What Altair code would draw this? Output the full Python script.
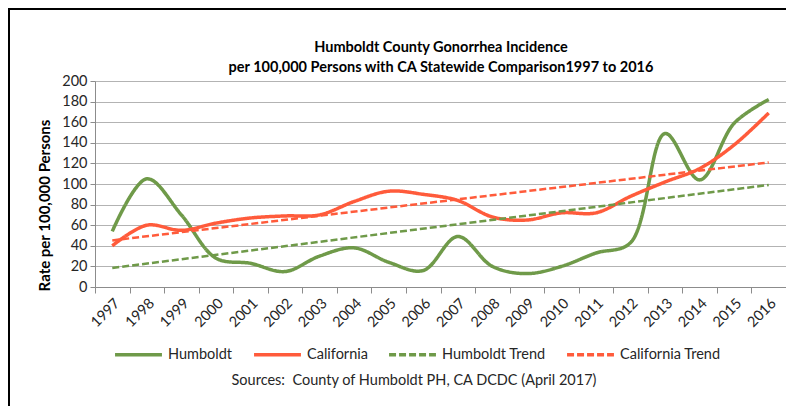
import altair as alt
import pandas as pd

years = list(range(1997, 2017))
humboldt = [54, 105, 70, 28, 23, 15, 30, 38, 24, 16, 49, 20, 13, 20, 33, 43, 149, 104, 159, 182]
california = [40, 60, 55, 62, 67, 69, 70, 83, 93, 90, 84, 68, 65, 72, 72, 88, 102, 115, 138, 169]
series_names = ["Humboldt", "California", "Humboldt Trend", "California Trend"]
series_colors = ["#6f9a49", "#ff5b3b", "#6f9a49", "#ff5b3b"]
series_dashes = [[1, 0], [1, 0], [7, 3], [7, 3]]
y_ticks = list(range(0, 201, 20))
title_lines = ["Humboldt County Gonorrhea Incidence",
               "per 100,000 Persons with CA Statewide Comparison1997 to 2016"]
y_title = "Rate per 100,000 Persons"
source_text = "Sources:\u00a0 County of Humboldt PH, CA DCDC (April 2017)"

FONT = "Lato"

df = pd.DataFrame({
    "year": years * 2,
    "value": humboldt + california,
    "series": ["Humboldt"] * len(years) + ["California"] * len(years),
})

color_scale = alt.Scale(domain=series_names, range=series_colors)
dash_scale = alt.Scale(domain=series_names, range=series_dashes)

x_enc = alt.X(
    "year:O",
    bandPosition=0.5,
    scale=alt.Scale(type="band", paddingInner=0, paddingOuter=0),
    axis=alt.Axis(
        title=None, labelAngle=-45, tickBand="extent", grid=False,
        domainColor="#8c8c8c", tickColor="#8c8c8c", tickSize=6,
        labelFontSize=14.5, labelColor="#262626", labelFont=FONT, labelPadding=3,
    ),
)
y_enc = alt.Y(
    "value:Q",
    scale=alt.Scale(domain=[0, 200], nice=False),
    axis=alt.Axis(
        title=y_title, values=y_ticks, grid=True, gridColor="#b3b3b3",
        domainColor="#8c8c8c", tickColor="#8c8c8c", tickSize=5,
        labelFontSize=14.5, labelColor="#262626", labelFont=FONT, labelPadding=3,
        titleFont=FONT, titleFontSize=15, titleFontWeight="bold", titleColor="#000000",
        titleX=-51, titleY=124, titleAlign="center", titleBaseline="middle", titleAngle=-90,
    ),
)

legend = alt.Legend(
    title=None, orient="none", direction="horizontal", legendX=18, legendY=248,
    symbolType="stroke", symbolSize=2200, symbolStrokeWidth=3.5,
    labelFont=FONT, labelFontSize=14.5, labelColor="#262626", labelOffset=4,
    columnPadding=14,
)

base = alt.Chart(df)

lines = base.mark_line(interpolate="catmull-rom", strokeWidth=3.5).encode(
    x=x_enc, y=y_enc,
    color=alt.Color("series:N", scale=color_scale, legend=legend),
    strokeDash=alt.StrokeDash("series:N", scale=dash_scale, legend=legend),
)

trends = base.transform_regression(
    "year", "value", groupby=["series"], method="linear"
).transform_calculate(
    series="datum.series + ' Trend'"
).mark_line(strokeWidth=2.5).encode(
    x=x_enc, y=y_enc,
    color=alt.Color("series:N", scale=color_scale, legend=legend),
    strokeDash=alt.StrokeDash("series:N", scale=dash_scale, legend=legend),
)

one_row = pd.DataFrame({"k": [0]})
frame = alt.Chart(one_row).mark_rect(fill=None, stroke="#000000", strokeWidth=2).encode(
    x=alt.value(-86), x2=alt.value(720), y=alt.value(-72), y2=alt.value(400),
)

title1 = alt.Chart(one_row).mark_text(
    font=FONT, fontSize=14.5, fontWeight="bold", color="#000000", align="center", baseline="alphabetic"
).encode(x=alt.value(346), y=alt.value(-29), text=alt.value(title_lines[0]))

title2 = alt.Chart(one_row).mark_text(
    font=FONT, fontSize=14.5, fontWeight="bold", color="#000000", align="center", baseline="alphabetic"
).encode(x=alt.value(346), y=alt.value(-9), text=alt.value(title_lines[1]))

source = alt.Chart(one_row).mark_text(
    font=FONT, fontSize=14.5, color="#262626", align="center", baseline="alphabetic"
).encode(
    x=alt.value(319), y=alt.value(304), text=alt.value(source_text),
)

chart = alt.layer(lines, trends, frame, title1, title2, source).properties(
    width=691, height=206,
    autosize=alt.AutoSizeParams(type="none"),
    padding={"left": 87, "top": 73, "right": 0, "bottom": 119},
).configure_view(stroke=None).configure(background="white")

chart.save("out.html", embed_options={"renderer": "svg", "actions": False})
